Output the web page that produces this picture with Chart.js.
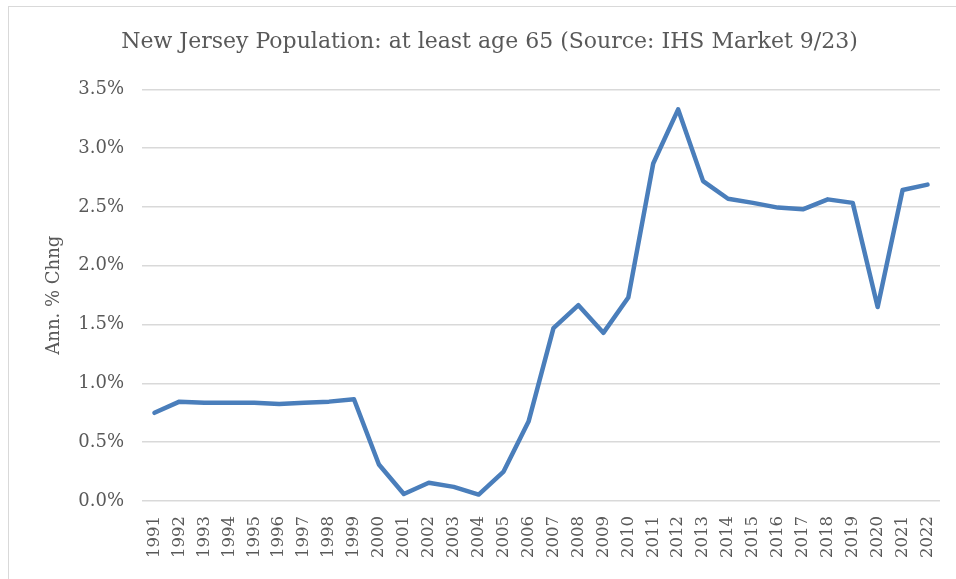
<!DOCTYPE html>
<html>
<head>
<meta charset="utf-8">
<script src="https://cdn.jsdelivr.net/npm/chart.js@4"></script>
<style>
  html, body { margin: 0; padding: 0; background: #fff; }
  #wrap { position: relative; width: 956px; height: 579px; overflow: hidden; }
  #frame {
    position: absolute; left: 8px; top: 6px; right: -4px; bottom: -4px;
    border-top: 1.5px solid #d9d9d9; border-left: 1.5px solid #d9d9d9;
  }
  canvas { position: absolute; left: 0; top: 0; }
</style>
</head>
<body>
<div id="wrap">
  <div id="frame"></div>
  <canvas id="popChart" width="956" height="579"></canvas>
</div>
<script>
// Annual % change, NJ population aged 65+
const years = [
  '1991', '1992', '1993', '1994', '1995', '1996', '1997', '1998', '1999', '2000',
  '2001', '2002', '2003', '2004', '2005', '2006', '2007', '2008', '2009', '2010',
  '2011', '2012', '2013', '2014', '2015', '2016', '2017', '2018', '2019', '2020',
  '2021', '2022'
];
const pctChange = [
  0.75, 0.845, 0.835, 0.835, 0.835, 0.825, 0.835, 0.845, 0.865, 0.31,
  0.06, 0.155, 0.12, 0.055, 0.25, 0.675, 1.47, 1.665, 1.43, 1.73,
  2.87, 3.33, 2.72, 2.57, 2.535, 2.495, 2.48, 2.565, 2.535, 1.65,
  2.645, 2.69
];
const yTicks = [0, 0.5, 1.0, 1.5, 2.0, 2.5, 3.0, 3.5];

const serif = '"DejaVu Serif", "Liberation Serif", serif';
const textGrey = '#595959';

new Chart(document.getElementById('popChart'), {
  type: 'line',
  data: {
    labels: years,
    datasets: [{
      label: 'Ann. % Chng',
      data: pctChange,
      borderColor: '#4a7ebb',
      borderWidth: 4.5,
      pointRadius: 0,
      tension: 0,
      borderJoinStyle: 'round',
      borderCapStyle: 'round'
    }]
  },
  options: {
    responsive: false,
    animation: false,
    layout: { padding: { left: 39, right: 16, top: 0, bottom: 0 } },
    plugins: {
      legend: { display: false },
      tooltip: { enabled: false },
      title: {
        display: true,
        text: 'New Jersey Population: at least age 65 (Source: IHS Market 9/23)',
        color: textGrey,
        font: { family: serif, size: 22, weight: 'normal', lineHeight: 1.2 },
        padding: { top: 29, bottom: 34 }
      }
    },
    scales: {
      x: {
        offset: true,
        grid: { display: false },
        border: { display: false },
        ticks: {
          color: textGrey,
          font: { family: serif, size: 16.5 },
          minRotation: 90,
          maxRotation: 90,
          autoSkip: false,
          padding: 7
        },
        afterFit: s => { s.height = 78; }
      },
      y: {
        min: 0,
        max: 3.5,
        afterBuildTicks: s => { s.ticks = yTicks.map(v => ({ value: v })); },
        grid: { color: '#d9d9d9', lineWidth: 1.5, drawTicks: false },
        border: { display: false },
        ticks: {
          color: textGrey,
          font: { family: serif, size: 18 },
          padding: 18,
          callback: v => v.toFixed(1) + '%'
        },
        title: {
          display: true,
          text: 'Ann. % Chng',
          color: textGrey,
          font: { family: serif, size: 18 },
          padding: { top: 5, bottom: 0 }
        },
        afterFit: s => { s.width = 103; }
      }
    }
  }
});
</script>
</body>
</html>
